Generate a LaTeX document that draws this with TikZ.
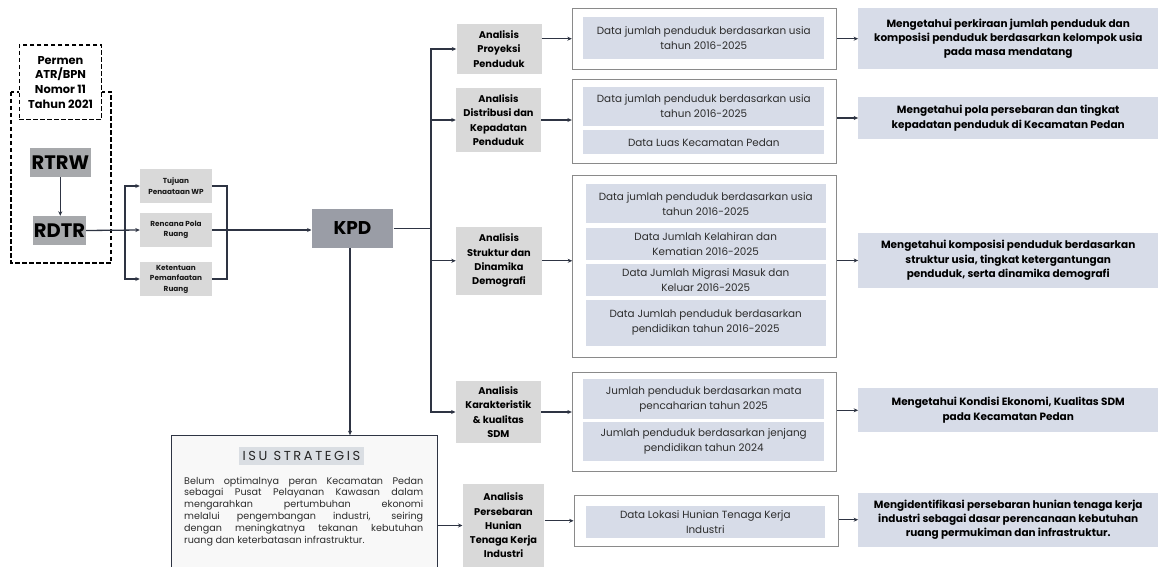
\documentclass[tikz,border=0pt]{standalone}
\usepackage{fontspec}
\setmainfont{Poppins}
\usetikzlibrary{arrows.meta,calc}

\definecolor{linec}{HTML}{2E3443}
\definecolor{anagray}{HTML}{D9D9D9}
\definecolor{planbox}{HTML}{A7A9AC}
\definecolor{kpdfill}{HTML}{9A9DA6}
\definecolor{datafill}{HTML}{D7DCE8}
\definecolor{frameline}{HTML}{8A8A8A}
\definecolor{isufill}{HTML}{F8F8F8}
\definecolor{titlebg}{HTML}{DADEE3}
\definecolor{bodytext}{HTML}{2C2C2C}

\begin{document}
\begin{tikzpicture}[x=1pt,y=-1pt,
  conn/.style={draw=linec, line width=1.3pt},
  arr/.style={conn, -{Stealth[length=4.5pt,width=4pt]}},
  box/.style={inner sep=0pt, align=center, anchor=center},
  dashbox/.style={draw=black, line width=1.5pt, dash pattern=on 4.5pt off 2.5pt},
  planstyle/.style={box, fill=planbox, font=\fontsize{19.5}{22}\selectfont\bfseries, text=black},
  smallbox/.style={box, fill=anagray, minimum width=72pt, minimum height=34pt,
    font=\fontsize{7.3}{10.5}\selectfont\bfseries, text=black!90},
  anabox/.style={box, fill=anagray, font=\fontsize{9.8}{14.3}\selectfont\bfseries, text=black},
  frame/.style={box, draw=frameline, line width=0.9pt, fill=white},
  databox/.style={box, fill=datafill, font=\fontsize{10.4}{15}\selectfont, text=bodytext},
  resultbox/.style={box, fill=datafill, minimum width=299.7pt,
    font=\fontsize{10.5}{14.4}\selectfont\bfseries, text=black},
]
\useasboundingbox (0,0) rectangle (1162,567);

% regulation frame and its title box
\draw[dashbox] (11,92) rectangle (111,263);
\node[box, dashbox, fill=white, minimum width=82.4pt, minimum height=74.3pt,
  font=\fontsize{11.4}{14.7}\selectfont\bfseries] (permen) at (60.5,82.2)
  {Permen\\ATR/BPN\\Nomor 11\\Tahun 2021};

% planning documents
\node[planstyle, minimum width=60.7pt, minimum height=29pt] (rtrw) at (60.3,162.5) {RTRW};
\node[planstyle, minimum width=53pt, minimum height=29pt] (rdtr) at (59.5,230.5) {RDTR};

% RDTR contents
\node[smallbox] (tujuan) at (176,186) {Tujuan\\Penaataan WP};
\node[smallbox] (rencana) at (176,230) {Rencana Pola\\Ruang};
\node[smallbox] (ketentuan) at (176,279) {Ketentuan\\Pemanfaatan\\Ruang};

% KPD
\node[box, fill=kpdfill, minimum width=81.6pt, minimum height=38.7pt,
  font=\fontsize{18.5}{20}\selectfont\bfseries] (kpd) at (352.5,228.3) {KPD};

% analyses
\node[anabox, minimum width=85pt, minimum height=50pt] (a1) at (499,49)
  {Analisis\\Proyeksi\\Penduduk};
\node[anabox, minimum width=85pt, minimum height=63.7pt] (a2) at (498.5,120)
  {Analisis\\Distribusi dan\\Kepadatan\\Penduduk};
\node[anabox, minimum width=86pt, minimum height=68.3pt] (a3) at (499,260.8)
  {Analisis\\Struktur dan\\Dinamika\\Demografi};
\node[anabox, minimum width=85.3pt, minimum height=62pt] (a4) at (498.4,412)
  {Analisis\\Karakteristik\\\& kualitas\\SDM};
\node[anabox, minimum width=81.6pt, minimum height=83pt] (a5) at (503.5,525.5)
  {Analisis\\Persebaran\\Hunian\\Tenaga Kerja\\Industri};

% data frames
\node[frame, minimum width=264.4pt, minimum height=60.7pt] (c1) at (704.5,38.7) {};
\node[frame, minimum width=264.4pt, minimum height=84pt] (c2) at (704.5,121.3) {};
\node[frame, minimum width=264pt, minimum height=182.3pt] (c3) at (704.7,266.2) {};
\node[frame, minimum width=264.4pt, minimum height=98.7pt] (c4) at (704.5,421.7) {};
\node[frame, minimum width=264.3pt, minimum height=51.7pt] (c5) at (706.2,520.8) {};

% data items
\node[databox, minimum width=241pt, minimum height=42.3pt] (d11) at (703.7,37.8)
  {Data jumlah penduduk berdasarkan usia\\tahun 2016-2025};
\node[databox, minimum width=241pt, minimum height=38.4pt] (d21) at (703.8,106.5)
  {Data jumlah penduduk berdasarkan usia\\tahun 2016-2025};
\node[databox, minimum width=241pt, minimum height=24.3pt] (d22) at (703.8,142.2)
  {Data Luas Kecamatan Pedan};
\node[databox, minimum width=240pt, minimum height=39pt] (d31) at (705.7,203.8)
  {Data jumlah penduduk berdasarkan usia\\tahun 2016-2025};
\node[databox, minimum width=240pt, minimum height=31.7pt] (d32) at (705.7,244.2)
  {Data Jumlah Kelahiran dan\\Kematian 2016-2025};
\node[databox, minimum width=240pt, minimum height=32pt] (d33) at (705.7,280)
  {Data Jumlah Migrasi Masuk dan\\Keluar 2016-2025};
\node[databox, minimum width=240pt, minimum height=45.7pt] (d34) at (705.7,322.8)
  {Data Jumlah penduduk berdasarkan\\pendidikan tahun 2016-2025};
\node[databox, minimum width=241pt, minimum height=39.7pt] (d41) at (703.7,399.2)
  {Jumlah penduduk berdasarkan mata\\pencaharian tahun 2025};
\node[databox, minimum width=241pt, minimum height=38.4pt] (d42) at (703.7,441.5)
  {Jumlah penduduk berdasarkan jenjang\\pendidikan tahun 2024};
\node[databox, minimum width=239.3pt, minimum height=32pt] (d51) at (705.3,521.7)
  {Data Lokasi Hunian Tenaga Kerja\\Industri};

% outcomes
\node[resultbox, minimum height=60.7pt] (r1) at (1008.2,38.7)
  {Mengetahui perkiraan jumlah penduduk dan\\komposisi penduduk berdasarkan kelompok usia\\pada masa mendatang};
\node[resultbox, minimum height=42.6pt] (r2) at (1008.2,118)
  {Mengetahui pola persebaran dan tingkat\\kepadatan penduduk di Kecamatan Pedan};
\node[resultbox, minimum height=54.4pt] (r3) at (1008.2,260.5)
  {Mengetahui komposisi penduduk berdasarkan\\struktur usia, tingkat ketergantungan\\penduduk, serta dinamika demografi};
\node[resultbox, minimum height=44pt] (r4) at (1008.2,410.3)
  {Mengetahui Kondisi Ekonomi, Kualitas SDM\\pada Kecamatan Pedan};
\node[resultbox, minimum height=54pt] (r5) at (1008.2,519.7)
  {Mengidentifikasi persebaran hunian tenaga kerja\\industri sebagai dasar perencanaan kebutuhan\\ruang permukiman dan infrastruktur.};

% strategic issue panel
\node[box, draw=linec, line width=1.1pt, fill=isufill, minimum width=266.3pt,
  minimum height=136pt] (isu) at (304.2,503.7) {};
\node[box, fill=titlebg, minimum width=125pt, minimum height=18pt,
  font=\fontsize{13}{14}\selectfont\addfontfeature{LetterSpace=20}, text=black!85] (isutitle)
  at (301.5,456) {ISU STRATEGIS};
\node[inner sep=0pt, anchor=north west, align=left, text=bodytext,
  font=\fontsize{9.6}{11.9}\selectfont] (isubody) at (184,476.5)
  {\makebox[239pt][s]{Belum optimalnya peran Kecamatan Pedan}\\
   \makebox[239pt][s]{sebagai Pusat Pelayanan Kawasan dalam}\\
   \makebox[239pt][s]{mengarahkan pertumbuhan ekonomi}\\
   \makebox[239pt][s]{melalui pengembangan industri, seiring}\\
   \makebox[239pt][s]{dengan meningkatnya tekanan kebutuhan}\\
   ruang dan keterbatasan infrastruktur.};

% connectors: planning chain
\draw[arr] (rtrw.south) -- (rtrw.south |- rdtr.north);
\draw[arr] (rdtr.east) -- (rencana.west);
\coordinate (splitL) at (125,0);
\coordinate (joinR) at (227,0);
\draw[arr] (splitL |- rdtr.east) |- (tujuan.west);
\draw[arr] (splitL |- rdtr.east) |- (ketentuan.west);
\draw[conn] (tujuan.east) -| (joinR |- ketentuan.east) -- (ketentuan.east);
\draw[arr] (rencana.east) -- (kpd.west |- rencana.east);
\draw[arr] (kpd.south -| 350,0) -- (isu.north -| 350,0);

% connectors: KPD trunk to the analyses
\coordinate (trunk) at (431,0);
\draw[conn] (kpd.east) -- (trunk |- kpd.east);
\draw[conn, line cap=rect] (trunk |- a1.west) -- (trunk |- a4.west);
\draw[arr] (trunk |- a1.west) -- (a1.west);
\draw[arr] (trunk |- a2.west) -- (a2.west);
\draw[arr] (trunk |- a3.west) -- (a3.west);
\draw[arr] (trunk |- a4.west) -- (a4.west);
\draw[arr] (isu.east |- a5.west) -- (a5.west);

% connectors: analyses to data
\draw[arr] (a1.east |- c1.west) -- (c1.west);
\draw[arr] (a2.east) -- (a2.east -| c2.west);
\draw[arr] (a3.east) -- (a3.east -| c3.west);
\draw[arr] (a4.east) -- (a4.east -| c4.west);
\draw[arr] (a5.east |- c5.west) -- (c5.west);

% connectors: data to outcomes
\draw[arr] (c1.east |- r1.west) -- (r1.west);
\draw[arr] (c2.east |- r2.west) -- (r2.west);
\draw[arr] (c3.east |- r3.west) -- (r3.west);
\draw[arr] (c4.east |- r4.west) -- (r4.west);
\draw[arr] (c5.east |- r5.west) -- (r5.west);
\end{tikzpicture}
\end{document}
